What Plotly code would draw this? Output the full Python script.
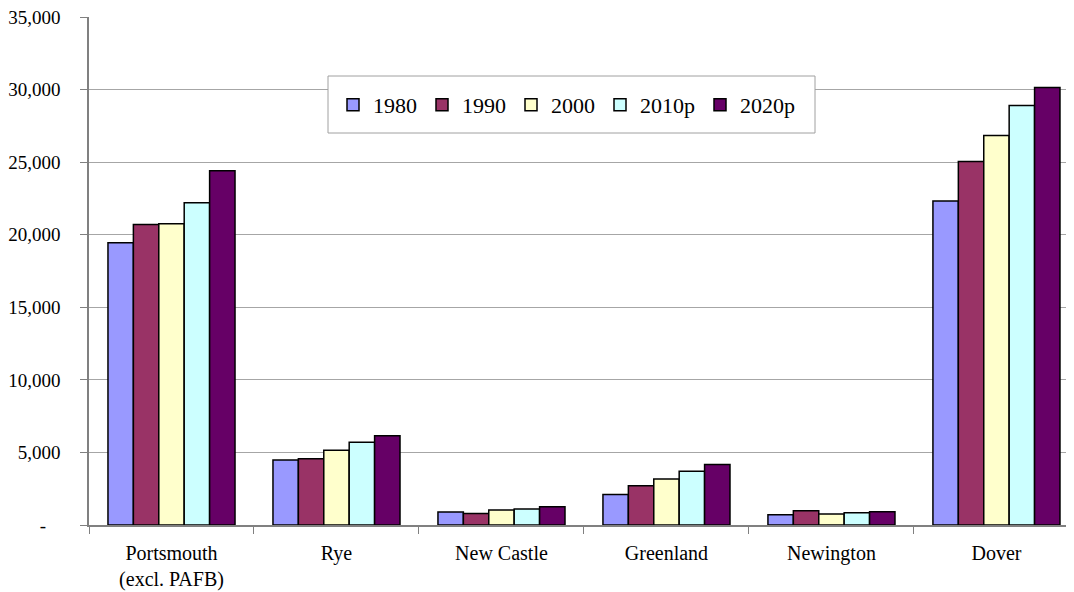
import plotly.graph_objects as go

categories = ["Portsmouth<br>(excl. PAFB)", "Rye", "New Castle", "Greenland", "Newington", "Dover"]
series_names = ["1980", "1990", "2000", "2010p", "2020p"]
v1980 = [19450, 4480, 900, 2100, 710, 22330]
v1990 = [20700, 4570, 800, 2710, 990, 25040]
v2000 = [20750, 5150, 1030, 3170, 760, 26830]
v2010 = [22200, 5700, 1100, 3700, 850, 28900]
v2020 = [24400, 6150, 1260, 4160, 920, 30140]
colors = ["#9999FF", "#993366", "#FFFFCC", "#CCFFFF", "#660066"]
y_tickvals = [0, 5000, 10000, 15000, 20000, 25000, 30000, 35000]
y_ticktext = ["-&nbsp;&nbsp;&nbsp;", "5,000", "10,000", "15,000", "20,000", "25,000", "30,000", "35,000"]

fig = go.Figure()
for name, vals, c in zip(series_names, [v1980, v1990, v2000, v2010, v2020], colors):
    fig.add_trace(go.Bar(
        name=name, x=categories, y=vals,
        marker=dict(color=c, line=dict(color="black", width=1.5)),
    ))

font = "Liberation Serif, Times New Roman, serif"
# page body has an 8px margin, so the figure is sized/offset to compensate
W, H = 1066, 584
L, T, B = 81, 9, 67
pw, ph = W - L, H - T - B


def px_x(x):
    return (x - 8 - L) / pw


def px_y(y):
    return (H - B - (y - 8)) / ph


fig.add_shape(
    type="rect", xref="paper", yref="paper",
    x0=px_x(328), x1=px_x(815), y0=px_y(133), y1=px_y(76),
    line=dict(color="#A0A0A0", width=1), fillcolor="white", layer="above",
)

fig.update_layout(
    width=W, height=H,
    margin=dict(l=L, r=0, t=T, b=B, autoexpand=False),
    paper_bgcolor="white", plot_bgcolor="white",
    barmode="group", bargap=0.23, bargroupgap=0,
    font=dict(family=font, size=20, color="black"),
    showlegend=True,
    legend=dict(
        orientation="h", xref="paper", yref="paper",
        x=px_x(333), xanchor="left", y=px_y(105), yanchor="middle",
        bgcolor="rgba(0,0,0,0)", borderwidth=0,
        font=dict(family=font, size=22, color="black"),
        traceorder="normal",
    ),
    xaxis=dict(
        type="category", range=[-0.5, 5.47], automargin=False,
        showline=True, linecolor="#808080", linewidth=1.5,
        ticks="outside", tickson="boundaries", ticklen=7, tickcolor="#808080",
        tickfont=dict(family=font, size=20),
        ticklabelstandoff=9,
        showgrid=False,
    ),
    yaxis=dict(
        range=[0, 35000], tickvals=y_tickvals, ticktext=y_ticktext, automargin=False,
        showline=True, linecolor="#808080", linewidth=1.5,
        ticks="outside", ticklen=7, tickcolor="#808080",
        tickfont=dict(family=font, size=19),
        ticklabelstandoff=16, ticklabeloverflow="allow",
        showgrid=True, gridcolor="#A6A6A6", gridwidth=1,
        zeroline=False,
    ),
)

fig.write_html("out.html")
